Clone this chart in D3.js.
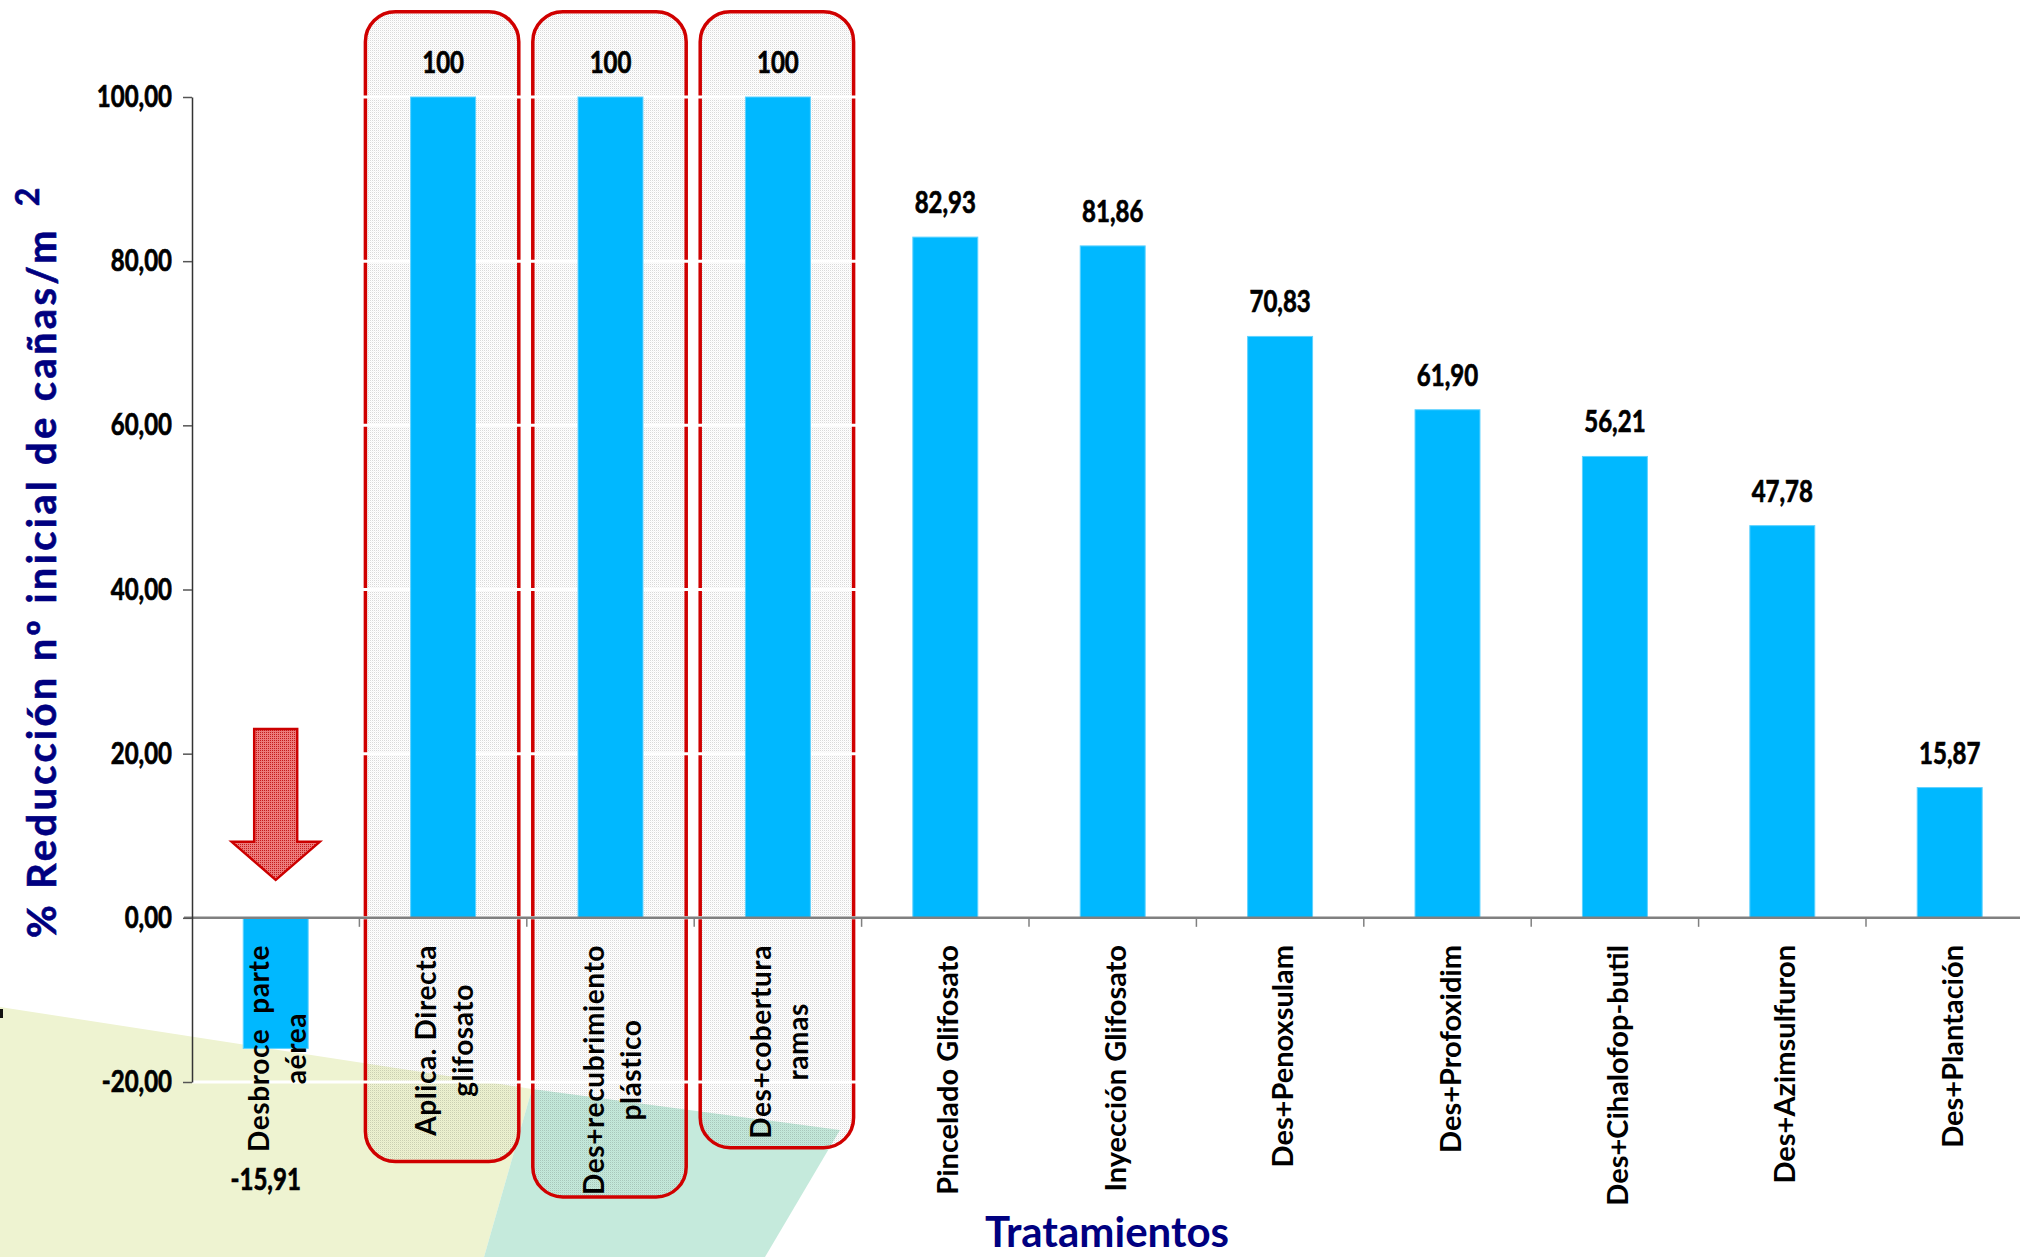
<!DOCTYPE html>
<html lang="es">
<head>
<meta charset="utf-8">
<title>Reducción de cañas por tratamiento</title>
<script src="https://cdn.jsdelivr.net/npm/d3@7"></script>
<style>
  html, body { margin: 0; padding: 0; background: #ffffff; }
  svg { display: block; }
  text { white-space: pre; }
</style>
</head>
<body>
<svg id="chart" width="2020" height="1257"></svg>
<script>
// Treatments, one entry per bar (multi-line labels split into lines)
const categories = [
  ["Desbroce  parte", "aérea"],
  ["Aplica. Directa", "glifosato"],
  ["Des+recubrimiento", "plástico"],
  ["Des+cobertura", "ramas"],
  ["Pincelado Glifosato"],
  ["Inyección Glifosato"],
  ["Des+Penoxsulam"],
  ["Des+Profoxidim"],
  ["Des+Cihalofop-butil"],
  ["Des+Azimsulfuron"],
  ["Des+Plantación"]
];
// % reduction of the initial number of canes per m²
const values = [-15.91, 100, 100, 100, 82.93, 81.86, 70.83, 61.90, 56.21, 47.78, 15.87];
const valueLabels = ["-15,91", "100", "100", "100", "82,93", "81,86", "70,83", "61,90", "56,21", "47,78", "15,87"];
const yTicks = [-20, 0, 20, 40, 60, 80, 100];
const yTickLabels = ["-20,00", "0,00", "20,00", "40,00", "60,00", "80,00", "100,00"];
// Treatments that reached a full reduction (framed in red)
const highlighted = [1, 2, 3];

const W = 2020, H = 1257;
const FONT = "Lato, 'Open Sans', sans-serif";
const NARROW = 0.8;   // horizontal squeeze of the numeric labels
const svg = d3.select("#chart");
const defs = svg.append("defs");

// dotted fill used inside the red frames
const dots = defs.append("pattern").attr("id", "dots")
  .attr("width", 2).attr("height", 2).attr("patternUnits", "userSpaceOnUse");
dots.append("rect").attr("width", 1).attr("height", 1).attr("fill", "rgba(0,0,0,0.15)");
dots.append("rect").attr("x", 1).attr("y", 1).attr("width", 1).attr("height", 1).attr("fill", "rgba(0,0,0,0.04)");

// dotted red fill of the arrow
const redDots = defs.append("pattern").attr("id", "redDots")
  .attr("width", 2).attr("height", 2).attr("patternUnits", "userSpaceOnUse");
redDots.append("rect").attr("width", 2).attr("height", 2).attr("fill", "#ec7c7c");
redDots.append("rect").attr("width", 1).attr("height", 1).attr("fill", "#c41c1c");

// scales
const y = d3.scaleLinear().domain([-20, 100]).range([1082, 97]);
const step = 167.4;
const x = d3.scaleBand().domain(d3.range(categories.length))
  .range([192, 192 + step * categories.length])
  .paddingInner(0.612).paddingOuter(0.306);
const cx = i => x(i) + x.bandwidth() / 2;

// slide background decoration
const bg = svg.append("g");
bg.append("polygon").attr("points", [[0, 1007], [532, 1089], [484, 1257], [0, 1257]].join(" "))
  .attr("fill", "#eef3d1");
bg.append("polygon").attr("points", [[532, 1089], [840, 1130], [765, 1257], [484, 1257]].join(" "))
  .attr("fill", "#c5eadc");
bg.append("rect").attr("x", 0).attr("y", 1009).attr("width", 3).attr("height", 9).attr("fill", "#111");

// red rounded frames around the full-reduction treatments
const frameTop = 110.4;
const frameBottom = { 1: -29.7, 2: -34.0, 3: -28.0 };
svg.append("g").selectAll("rect").data(highlighted).join("rect")
  .attr("x", i => x(i) - x.step() * x.paddingInner() / 2 + 6)
  .attr("width", x.step() - 14)
  .attr("y", y(frameTop))
  .attr("height", i => y(frameBottom[i]) - y(frameTop))
  .attr("rx", 30).attr("ry", 30)
  .attr("fill", "url(#dots)")
  .attr("stroke", "#d00000").attr("stroke-width", 3.5);

// white gridlines
svg.append("g").selectAll("line").data(yTicks).join("line")
  .attr("x1", 192).attr("x2", W)
  .attr("y1", d => y(d)).attr("y2", d => y(d))
  .attr("stroke", "#ffffff").attr("stroke-width", 3);

// bars
svg.append("g").selectAll("rect").data(values).join("rect")
  .attr("x", (d, i) => x(i))
  .attr("width", x.bandwidth())
  .attr("y", d => y(Math.max(0, d)))
  .attr("height", d => Math.abs(y(d) - y(0)))
  .attr("fill", "#00b8ff")
  .attr("stroke", "#5fd2ff").attr("stroke-width", 1);

// category axis (zero line + boundary ticks)
const xAxis = svg.append("g");
xAxis.append("line").attr("x1", 184).attr("x2", W).attr("y1", y(0)).attr("y2", y(0))
  .attr("stroke", "#808080").attr("stroke-width", 2.5);
xAxis.selectAll("line.tk").data(d3.range(1, categories.length + 1)).join("line")
  .attr("class", "tk")
  .attr("x1", i => 192 + i * x.step()).attr("x2", i => 192 + i * x.step())
  .attr("y1", y(0)).attr("y2", y(0) + 9)
  .attr("stroke", "#808080").attr("stroke-width", 1.5);

// value axis
const yAxis = svg.append("g").attr("transform", "translate(192,0)")
  .call(d3.axisLeft(y).tickValues(yTicks).tickSize(9).tickSizeOuter(0).tickPadding(11)
    .tickFormat((d, i) => yTickLabels[i]));
yAxis.select(".domain").attr("stroke", "#333").attr("stroke-width", 1.5);
yAxis.selectAll(".tick line").attr("stroke", "#555").attr("stroke-width", 1.5);
yAxis.selectAll(".tick text")
  .attr("x", -20 / NARROW)
  .attr("transform", `scale(${NARROW},1)`)
  .attr("font-family", FONT)
  .attr("font-weight", "bold").attr("font-size", 30).attr("fill", "#000")
  .attr("stroke", "#000").attr("stroke-width", 0.7);

// value labels
svg.append("g").selectAll("text").data(values).join("text")
  .attr("transform", (d, i) =>
    `translate(${d < 0 ? cx(i) - 10 : cx(i)},${d < 0 ? y(d) + 142 : y(d) - 24}) scale(${NARROW},1)`)
  .attr("text-anchor", "middle")
  .attr("font-family", FONT)
  .attr("font-weight", "bold").attr("font-size", 30).attr("fill", "#000")
  .attr("stroke", "#000").attr("stroke-width", 0.7)
  .text((d, i) => valueLabels[i]);

// rotated category labels
const labelTop = 945;
const catG = svg.append("g")
  .attr("font-family", FONT)
  .attr("font-weight", "bold").attr("fill", "#000");
categories.forEach((lines, i) => {
  const spaced = i < 4;
  const offsets = lines.length === 1 ? [13] : [-7, 30];
  const texts = lines.map(t => catG.append("text")
    .attr("font-size", spaced ? 28 : 29)
    .attr("letter-spacing", spaced ? 0.6 : 0)
    .attr("text-anchor", "middle")
    .text(t));
  const maxLen = d3.max(texts, t => t.node().getComputedTextLength());
  texts.forEach((t, k) => {
    t.attr("transform", `translate(${cx(i) + offsets[k]},${labelTop + maxLen / 2}) rotate(-90)`);
  });
});

// red arrow pointing at the negative bar
const ax = cx(0);
const arrow = [
  [ax - 21.5, y(23.0)], [ax + 21.5, y(23.0)], [ax + 21.5, y(9.26)], [ax + 44, y(9.26)],
  [ax, y(4.63)], [ax - 44, y(9.26)], [ax - 21.5, y(9.26)]
];
svg.append("polygon").attr("points", arrow.map(p => p.join(",")).join(" "))
  .attr("fill", "url(#redDots)").attr("stroke", "#cc0000").attr("stroke-width", 2.5)
  .attr("stroke-linejoin", "miter");

// axis titles
const yTitle = svg.append("text")
  .attr("transform", "translate(56,938) rotate(-90)")
  .attr("font-family", FONT)
  .attr("font-weight", "bold").attr("font-size", 40).attr("fill", "#000080")
  .attr("stroke", "#000080").attr("stroke-width", 0.6)
  .attr("letter-spacing", 3.3);
yTitle.append("tspan").text("% Reducción nº inicial de cañas/m ");
yTitle.append("tspan").attr("dy", -17).attr("dx", 8).attr("font-size", 32).text("2");

svg.append("text")
  .attr("x", 1107).attr("y", 1247)
  .attr("text-anchor", "middle")
  .attr("font-family", FONT)
  .attr("font-weight", "bold").attr("font-size", 42).attr("fill", "#000080")
  .text("Tratamientos");
</script>
</body>
</html>
